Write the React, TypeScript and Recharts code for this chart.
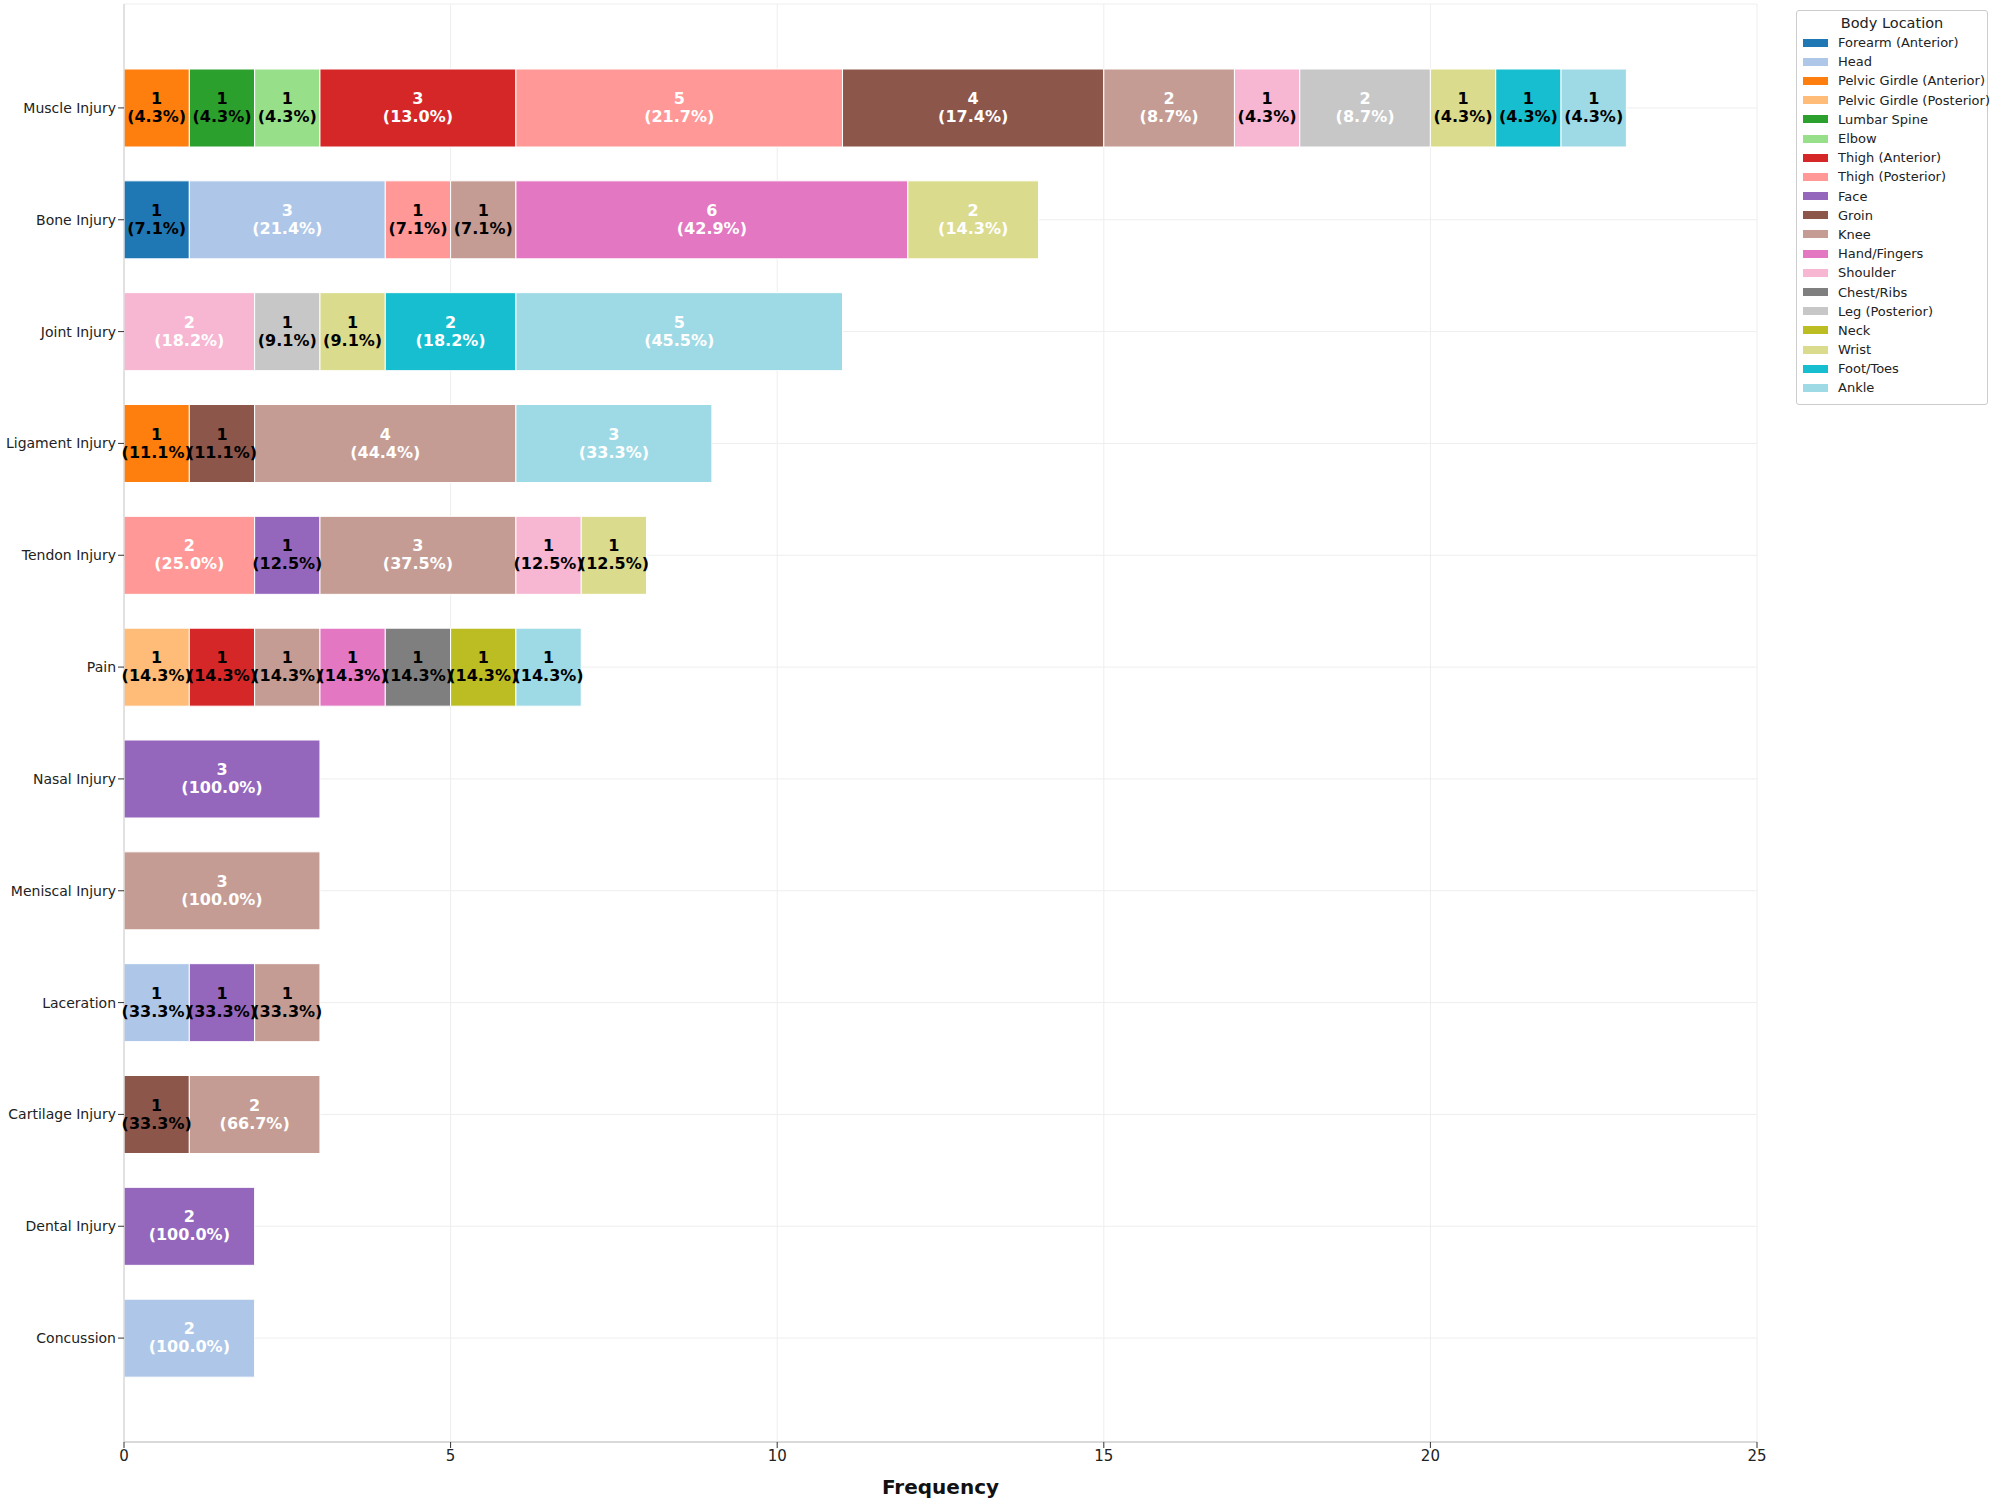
import React from 'react';
import { BarChart, Bar, XAxis, YAxis, CartesianGrid, LabelList } from 'recharts';

const categories = ['Muscle Injury','Bone Injury','Joint Injury','Ligament Injury','Tendon Injury','Pain','Nasal Injury','Meniscal Injury','Laceration','Cartilage Injury','Dental Injury','Concussion'];
const locations = ['Forearm (Anterior)','Head','Pelvic Girdle (Anterior)','Pelvic Girdle (Posterior)','Lumbar Spine','Elbow','Thigh (Anterior)','Thigh (Posterior)','Face','Groin','Knee','Hand/Fingers','Shoulder','Chest/Ribs','Leg (Posterior)','Neck','Wrist','Foot/Toes','Ankle'];
const colors = ['#1f77b4','#aec7e8','#ff7f0e','#ffbb78','#2ca02c','#98df8a','#d62728','#ff9896','#9467bd','#8c564b','#c49c94','#e377c2','#f7b6d2','#7f7f7f','#c7c7c7','#bcbd22','#dbdb8d','#17becf','#9edae5'];
const counts: Record<string, Record<string, number>> = {
  'Muscle Injury': { 'Pelvic Girdle (Anterior)': 1, 'Lumbar Spine': 1, 'Elbow': 1, 'Thigh (Anterior)': 3, 'Thigh (Posterior)': 5, 'Groin': 4, 'Knee': 2, 'Shoulder': 1, 'Leg (Posterior)': 2, 'Wrist': 1, 'Foot/Toes': 1, 'Ankle': 1 },
  'Bone Injury': { 'Forearm (Anterior)': 1, 'Head': 3, 'Thigh (Posterior)': 1, 'Knee': 1, 'Hand/Fingers': 6, 'Wrist': 2 },
  'Joint Injury': { 'Shoulder': 2, 'Leg (Posterior)': 1, 'Wrist': 1, 'Foot/Toes': 2, 'Ankle': 5 },
  'Ligament Injury': { 'Pelvic Girdle (Anterior)': 1, 'Groin': 1, 'Knee': 4, 'Ankle': 3 },
  'Tendon Injury': { 'Thigh (Posterior)': 2, 'Face': 1, 'Knee': 3, 'Shoulder': 1, 'Wrist': 1 },
  'Pain': { 'Pelvic Girdle (Posterior)': 1, 'Thigh (Anterior)': 1, 'Knee': 1, 'Hand/Fingers': 1, 'Chest/Ribs': 1, 'Neck': 1, 'Ankle': 1 },
  'Nasal Injury': { 'Face': 3 },
  'Meniscal Injury': { 'Knee': 3 },
  'Laceration': { 'Head': 1, 'Face': 1, 'Knee': 1 },
  'Cartilage Injury': { 'Groin': 1, 'Knee': 2 },
  'Dental Injury': { 'Face': 2 },
  'Concussion': { 'Head': 2 },
};
const xTicks = [0, 5, 10, 15, 20, 25];

const data = categories.map((c) => {
  const row: any = { name: c };
  let total = 0;
  locations.forEach((l) => { const v = counts[c][l] || 0; row[l] = v; total += v; });
  row.total = total;
  return row;
});

const FONT = 'DejaVu Sans, sans-serif';

const labelKey = (loc: string) => (row: any) => {
  const v = row[loc];
  if (!v) return '';
  return `${v}|${((v / row.total) * 100).toFixed(1)}`;
};

const renderLabel = (props: any) => {
  const { x, y, width, height, value } = props;
  if (!value || typeof value !== 'string') return null;
  const [v, pct] = value.split('|');
  const cx = x + width / 2;
  const cy = y + height / 2;
  const fill = Number(v) > 1 ? '#fff' : '#000';
  return (
    <text x={cx} textAnchor="middle" fontFamily={FONT} fontWeight="bold" fontSize={16} fill={fill}>
      <tspan x={cx} y={cy - 4}>{v}</tspan>
      <tspan x={cx} y={cy + 14}>({pct}%)</tspan>
    </text>
  );
};

export default function App() {
  return (
    <div style={{ position: 'absolute', left: 0, top: 0, width: 1998, height: 1500, background: '#fff', fontFamily: FONT }}>
      <BarChart width={1998} height={1500} data={data} layout="vertical" margin={{ top: 4, right: 241, left: 0, bottom: 0 }} barSize={78}>
        <CartesianGrid stroke="#eeeeee" strokeWidth={1} />
        <XAxis type="number" domain={[0, 25]} ticks={xTicks} height={58} tick={{ fontSize: 15, fill: '#222', fontFamily: FONT }} stroke="#bbb" tickLine={{ stroke: '#333' }}
          label={{ value: 'Frequency', position: 'insideBottom', offset: 6, style: { fontSize: 20, fontWeight: 'bold', fill: '#111', fontFamily: FONT } }} />
        <YAxis type="category" dataKey="name" width={124} padding={{ top: 48, bottom: 48 }} tick={{ fontSize: 14, fill: '#222', fontFamily: FONT }} stroke="#ccc" tickLine={{ stroke: '#333' }} />
        {locations.map((l, i) => (
          <Bar key={l} dataKey={l} stackId="a" fill={colors[i]} stroke="#fff" strokeWidth={1} isAnimationActive={false}>
            <LabelList dataKey={labelKey(l)} content={renderLabel} />
          </Bar>
        ))}
      </BarChart>
      <div style={{ position: 'absolute', left: 1796, top: 10, width: 192, border: '1px solid #ccc', borderRadius: 3, background: '#fff', padding: '4px 0 6px 0', fontSize: 13, color: '#222', whiteSpace: 'nowrap', boxSizing: 'border-box' }}>
        <div style={{ textAlign: 'center', fontSize: 14.5, marginBottom: 2 }}>Body Location</div>
        {locations.map((l, i) => (
          <div key={l} style={{ display: 'flex', alignItems: 'center', height: 19.2, paddingLeft: 6 }}>
            <div style={{ width: 25, height: 8, background: colors[i], marginRight: 10, flexShrink: 0 }} />
            <span>{l}</span>
          </div>
        ))}
      </div>
    </div>
  );
}
